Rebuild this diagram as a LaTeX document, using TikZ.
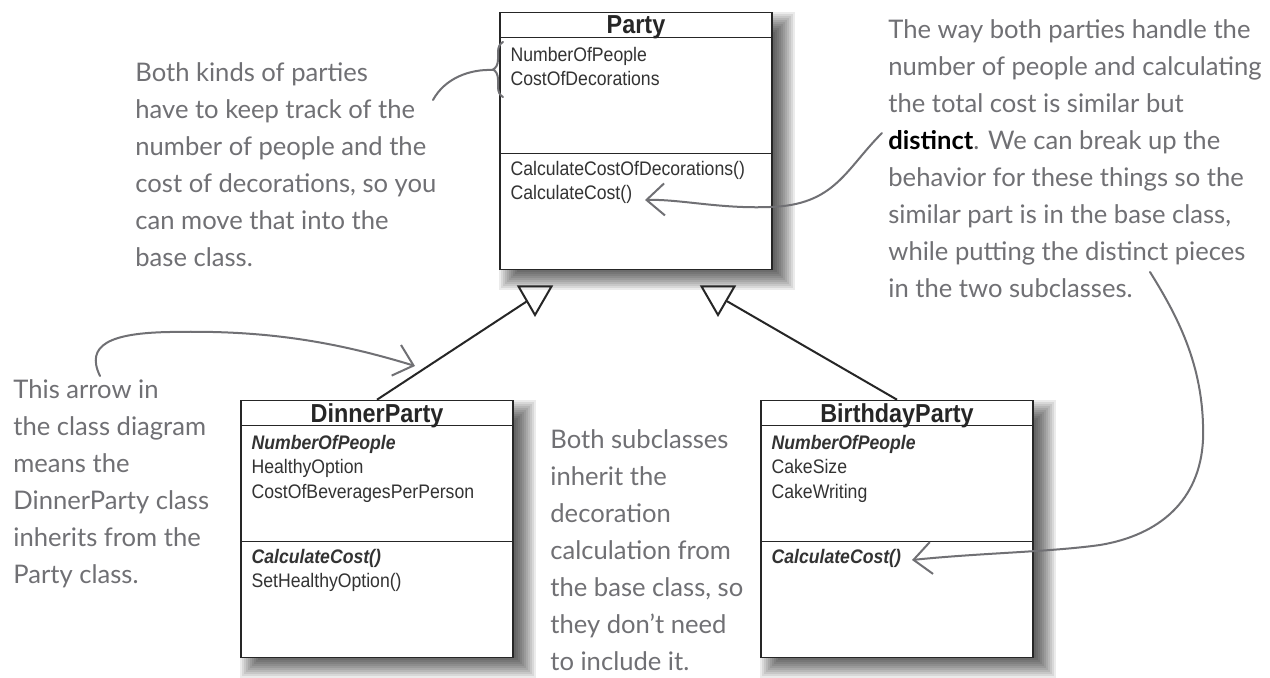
\documentclass[tikz,border=0pt]{standalone}
\usepackage{fontspec}
\usetikzlibrary{arrows.meta, positioning, decorations.pathreplacing, calc, shapes.geometric, backgrounds}

\newfontfamily\umlfont[FakeStretch=0.9]{Liberation Sans}
\newfontfamily\handfont{Lato}
\definecolor{notegray}{RGB}{112,112,116}

\tikzset{
  classbox/.style={draw=black!85, fill=white, line width=0.8pt, minimum width=136pt, minimum height=128.5pt, inner sep=0pt},
  classname/.style={font=\umlfont\bfseries\fontsize{13}{15}\selectfont, anchor=base, inner sep=0pt, text=black!85},
  members/.style={font=\umlfont\fontsize{9.8}{12.25}\selectfont, align=left, anchor=north west, inner sep=0pt, text=black!80},
  note/.style={font=\handfont\fontsize{12.8}{18.5}\selectfont, align=left, anchor=north west, inner sep=0pt, text=notegray},
  note line/.style={draw=notegray, line width=1pt, line cap=round},
  note arrow/.style={note line, -{Straight Barb[length=9pt,width=16pt]}},
  inherit/.style={regular polygon, regular polygon sides=3, shape border rotate=180, draw=black!85, line width=1pt, minimum size=19pt, inner sep=0pt},
}

\begin{document}
\begin{tikzpicture}[x=0.5pt, y=-0.5pt]
\useasboundingbox (0,0) rectangle (1270,678);

% the three classes
\node[classbox] (party) at (636,141) {};
\node[classbox] (dinner) at (377,529) {};
\node[classbox] (birthday) at (897,529) {};

\begin{scope}[on background layer]
  \fill[white] (0,0) rectangle (1270,678);
  \foreach \b in {party,dinner,birthday}
    \foreach \e in {0,2,...,20}
      \fill[black, opacity=0.08] ($(\b.north west)+(\e,\e)$) rectangle ($(\b.south east)+(22-\e,20-\e)$);
\end{scope}

\foreach \b in {party,dinner,birthday} {
  \draw[line width=0.8pt, black!85] ($(\b.north west)+(0,26)$) -- ($(\b.north east)+(0,26)$);
  \draw[line width=0.8pt, black!85] ($(\b.north west)+(0,142)$) -- ($(\b.north east)+(0,142)$);
}

\node[classname] (partyname) at ($(party.north)+(0,22)$) {Party};
\node[members] (partyattr) at ($(party.north west)+(11,35)$) {NumberOfPeople\\CostOfDecorations};
\node[members] (partyops) at ($(party.north west)+(11,149)$) {CalculateCostOfDecorations()\\CalculateCost()};

\node[classname] (dinnername) at ($(dinner.north)+(0,23)$) {DinnerParty};
\node[members] (dinnerattr) at ($(dinner.north west)+(11,35)$) {\textbf{\textit{NumberOfPeople}}\\HealthyOption\\CostOfBeveragesPerPerson};
\node[members] (dinnerops) at ($(dinner.north west)+(11,149)$) {\textbf{\textit{CalculateCost()}}\\SetHealthyOption()};

\node[classname] (birthdayname) at ($(birthday.north)+(0,23)$) {BirthdayParty};
\node[members] (birthdayattr) at ($(birthday.north west)+(11,35)$) {\textbf{\textit{NumberOfPeople}}\\CakeSize\\CakeWriting};
\node[members] (birthdayops) at ($(birthday.north west)+(11,149)$) {\textbf{\textit{CalculateCost()}}};

% inheritance
\node[inherit] (tri1) at (535,296) {};
\node[inherit] (tri2) at (718,296) {};
\draw[line width=1pt, black!85] (dinner.north) -- (tri1);
\draw[line width=1pt, black!85] (birthday.north) -- (tri2);

% notes
\node[note] (basenote) at (135,62) {Both kinds of parties\\have to keep track of the\\number of people and the\\cost of decorations, so you\\can move that into the\\base class.};
\node[note] (costnote) at (888,19) {The way both parties handle the\\number of people and calculating\\the total cost is similar but\\{\color{black}\bfseries distinct}. We can break up the\\behavior for these things so the\\similar part is in the base class,\\while putting the distinct pieces\\in the two subclasses.};
\node[note] (arrownote) at (13,379) {This arrow in\\the class diagram\\means the\\DinnerParty class\\inherits from the\\Party class.};
\node[note] (subnote) at (550,429) {Both subclasses\\inherit the\\decoration\\calculation from\\the base class, so\\they don’t need\\to include it.};

% brace and arrows of the notes
\coordinate (bracetop) at (503,42);
\coordinate (bracebot) at (503,97);
\draw[note line, decorate, decoration={brace, amplitude=5pt}] (bracebot) -- (bracetop);
\coordinate (bracetip) at (493,70);
\coordinate (basenoteend) at (433,100);
\draw[note line] (bracetip) .. controls (470,69) and (445,78) .. (basenoteend);

\coordinate (distinctpt) at (882,133);
\coordinate (partycost) at (645,200);
\draw[note arrow] (distinctpt) .. controls (845,170) and (835,205) .. (770,207) .. controls (720,209) and (680,199) .. (partycost);

\coordinate (arrowstart) at (100,376);
\coordinate (inheritpt) at (415,366);
\draw[note arrow] (arrowstart) .. controls (85,345) and (110,333) .. (170,332) .. controls (260,330) and (330,340) .. (inheritpt);

\coordinate (piecespt) at (1150,272);
\coordinate (birthcost) at (912,560);
\draw[note arrow] (piecespt) .. controls (1180,320) and (1205,370) .. (1203,440) .. controls (1200,500) and (1160,535) .. (1100,545) .. controls (1050,552) and (980,553) .. (birthcost);
\end{tikzpicture}
\end{document}
